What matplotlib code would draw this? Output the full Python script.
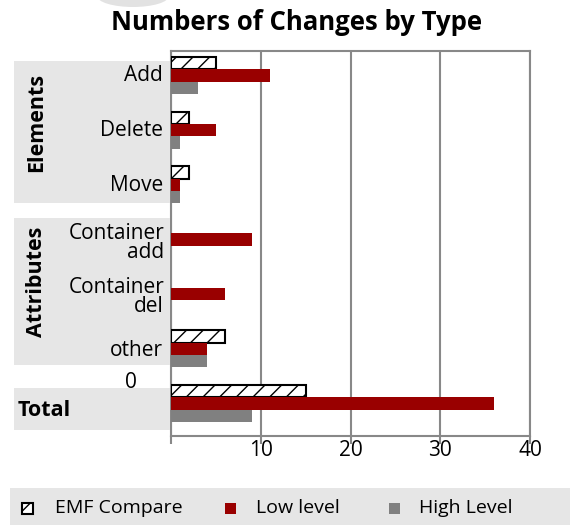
import numpy as np
import matplotlib
matplotlib.use("Agg")
import matplotlib.pyplot as plt
from matplotlib.patches import Rectangle, Ellipse

plt.rcParams['font.family'] = ['Open Sans', 'DejaVu Sans']
plt.rcParams['hatch.linewidth'] = 1.0

categories = ['Add', 'Delete', 'Move', 'Container\nadd', 'Container\ndel', 'other', '0']
groups = ['Elements', 'Attributes', 'Total']
series = ['EMF Compare', 'Low level', 'High Level']
emf_compare = [5, 2, 2, 0, 0, 6, 15]
low_level = [11, 5, 1, 9, 6, 4, 36]
high_level = [3, 1, 1, 0, 0, 4, 9]
xticks = [0, 10, 20, 30, 40]
xticklabels = ['', '10', '20', '30', '40']

W, H = 570, 529
fig = plt.figure(figsize=(W / 100, H / 100), dpi=100)
ax = fig.add_axes([171 / W, 1 - 436 / H, (530 - 171) / W, (436 - 51) / H])

def fy(py):
    return 1 - py / H

grey = '#888888'
band = '#e6e6e6'
red = '#990000'
hi = '#808080'

y = np.arange(len(categories))
h = 0.225
ax.barh(y - h, emf_compare, height=h, facecolor='white', edgecolor='black',
        linewidth=[1.5 if v else 0 for v in emf_compare], hatch='//', zorder=3)
ax.barh(y, low_level, height=h, color=red, zorder=3)
ax.barh(y + h, high_level, height=h, color=hi, zorder=3)

ax.set_xlim(0, 40)
ax.set_ylim(6.594, -0.448)
ax.set_xticks(xticks)
ax.set_xticklabels(xticklabels, fontsize=15)
ax.set_yticks([])
ax.grid(axis='x', color=grey, linewidth=1.5, zorder=0)
for s in ax.spines.values():
    s.set_color(grey)
    s.set_linewidth(1.5)
ax.tick_params(axis='x', length=6, width=1.5, color=grey, pad=-3)

# category labels
label_y = [75.5, 130.5, 185.5, 243, 297, 351, 383]
label_x = [163, 163, 163, 164, 164, 163, 137]
for lab, px, py in zip(categories, label_x, label_y):
    fig.text(px / W, fy(py), lab, ha='right', va='center', fontsize=15,
             linespacing=0.9)

# group bands and labels
bands = [(61, 203), (218, 365), (388, 430)]
for (t, b) in bands:
    fig.patches.append(Rectangle((14 / W, fy(b)), (170 - 14) / W, (b - t) / H,
                                 transform=fig.transFigure, facecolor=band,
                                 edgecolor='none', zorder=0))
fig.text(37 / W, fy(122), groups[0], rotation=90, ha='center', va='center',
         fontsize=15.5, fontweight='bold')
fig.text(37 / W, fy(282), groups[1], rotation=90, ha='center', va='center',
         fontsize=15.5, fontweight='bold')
fig.text(18 / W, fy(410), groups[2], ha='left', va='center',
         fontsize=15.5, fontweight='bold')

# stray grey shape at top edge of the screenshot
fig.patches.append(Ellipse((133 / W, fy(-4)), 72 / W, 22 / H,
                           transform=fig.transFigure, facecolor='#e2e2e2',
                           edgecolor='none', zorder=0))

fig.text(297 / W, fy(22), 'Numbers of Changes by Type', ha='center', va='center',
         fontsize=18.5, fontweight='bold')

# legend
fig.patches.append(Rectangle((10 / W, fy(525)), (570 - 10) / W, 37 / H,
                             transform=fig.transFigure, facecolor=band,
                             edgecolor='none', zorder=0))
sq = 11
items = [(22, 55, dict(facecolor='white', edgecolor='black', hatch='//', linewidth=1.5)),
         (225, 256, dict(facecolor=red, edgecolor='none')),
         (389, 419, dict(facecolor=hi, edgecolor='none'))]
for name, (bx, tx, kw) in zip(series, items):
    fig.patches.append(Rectangle((bx / W, fy(508 + sq / 2)), sq / W, sq / H,
                                 transform=fig.transFigure, zorder=2, **kw))
    fig.text(tx / W, fy(508), name, ha='left', va='center', fontsize=14)

fig.savefig('out.png', dpi=100)
